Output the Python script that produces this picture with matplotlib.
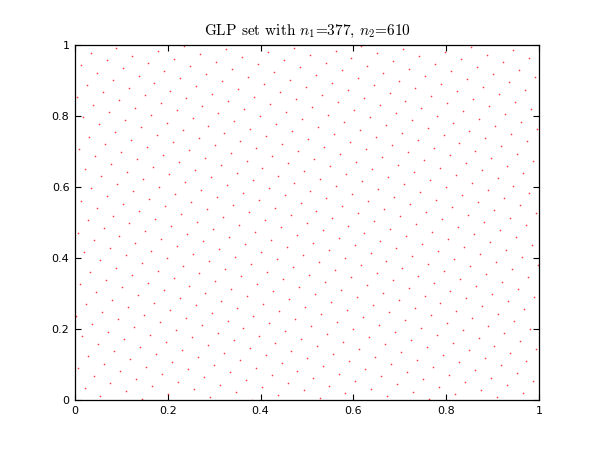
import numpy as np
import matplotlib
matplotlib.use("Agg")
import matplotlib.pyplot as plt

# GLP (good lattice point) set parameters read from the title
n1 = 377          # generating vector component
n2 = 610          # number of points
k = np.arange(1, n2 + 1)
x_vals = np.mod((2 * k * 1 - 1) / (2.0 * n2), 1.0)
y_vals = np.mod((2 * k * n1 - 1) / (2.0 * n2), 1.0)

xticks = [0, 0.2, 0.4, 0.6, 0.8, 1]
yticks = [0, 0.2, 0.4, 0.6, 0.8, 1]
xticklabels = ["0", "0.2", "0.4", "0.6", "0.8", "1"]
yticklabels = ["0", "0.2", "0.4", "0.6", "0.8", "1"]

plt.rcParams['mathtext.fontset'] = 'cm'
plt.rcParams['axes.formatter.use_mathtext'] = False

fig = plt.figure(figsize=(6, 4.5), dpi=100)
ax = fig.add_axes([0.125, 0.1111, 0.7733, 0.7889])
ax.plot(x_vals, y_vals, linestyle='none', marker='o', markersize=1.2,
        markeredgewidth=0, color='#ff0000', alpha=0.75)
ax.set_xlim(0, 1)
ax.set_ylim(0, 1)
ax.set_xticks(xticks)
ax.set_yticks(yticks)
ax.set_xticklabels(xticklabels)
ax.set_yticklabels(yticklabels)
ax.tick_params(direction='in', top=True, right=True, length=4, width=0.8,
               labelsize=8, pad=4)
for s in ax.spines.values():
    s.set_linewidth(0.9)
    s.set_color('black')
ax.set_title('GLP set with $n_1$=377, $n_2$=610',
             fontsize=11, pad=7, fontfamily=['cmr10', 'DejaVu Serif'])
fig.savefig('out.png', dpi=100, facecolor='white')
